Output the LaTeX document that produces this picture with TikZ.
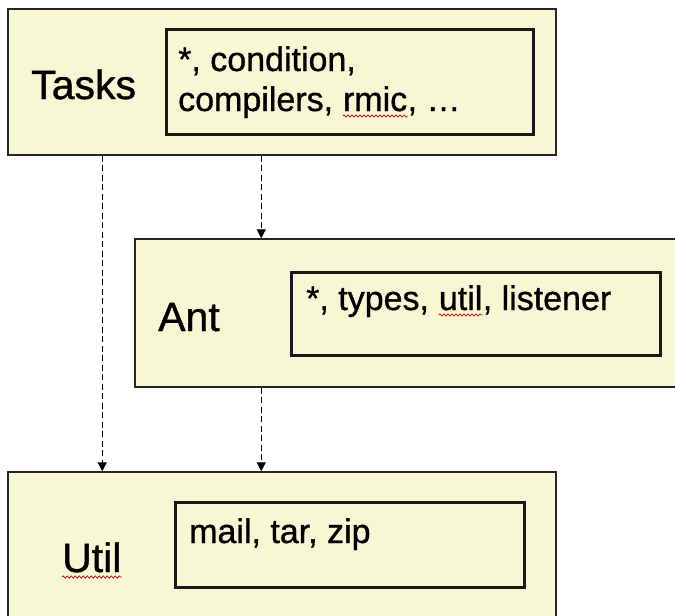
\documentclass[tikz,border=0pt]{standalone}
\usepackage{fontspec}
\setmainfont[FakeBold=0.9]{Liberation Sans}
\usetikzlibrary{arrows.meta,decorations.pathmorphing}
\definecolor{boxfill}{RGB}{247,247,212}
\tikzset{
  outerbox/.style={draw=black!85, line width=1.5pt, fill=boxfill, rectangle, inner sep=0pt},
  innerbox/.style={draw=black!90, line width=3pt, fill=boxfill, rectangle, inner sep=0pt},
  lbl/.style={inner sep=0pt, anchor=base west, font=\fontsize{41}{48}\selectfont},
  txt/.style={inner sep=0pt, anchor=base west, font=\fontsize{34}{40}\selectfont},
  dep/.style={dash pattern=on 6pt off 3.5pt, line width=1.2pt, -{Triangle[length=9pt,width=9pt]}},
  spell/.style={draw=red!85!black, line width=0.7pt, decorate,
    decoration={snake, segment length=4pt, amplitude=1.2pt}},
}
\begin{document}
\begin{tikzpicture}[x=1pt,y=-1pt]
\path[use as bounding box, clip] (0,0) rectangle (675,616);
\fill[white] (0,0) rectangle (675,616);

% package boxes
\node[outerbox, minimum width=548pt, minimum height=146pt] (tasks) at (282,82) {};
\node[outerbox, minimum width=565pt, minimum height=148pt] (ant) at (417.5,313) {};
\node[outerbox, minimum width=548pt, minimum height=168pt] (util) at (282,556) {};

% contents boxes
\node[innerbox, minimum width=367pt, minimum height=105pt] (tasksin) at (349.5,81.5) {};
\node[innerbox, minimum width=369pt, minimum height=83pt] (antin) at (475.5,313.5) {};
\node[innerbox, minimum width=349pt, minimum height=85pt] (utilin) at (349.5,544.5) {};

% dependencies
\draw[dep] ([xshift=95pt]tasks.south west) -- ([xshift=95pt]util.north west);
\draw[dep] ([xshift=254pt]tasks.south west) -- ([xshift=127pt]ant.north west);
\draw[dep] ([xshift=127pt]ant.south west) -- ([xshift=254pt]util.north west);

% Tasks
\node[lbl] (tasksl) at (31,99) {Tasks};
\node[txt] (t1) at (178,71) {*, condition,};
\node[txt] (t2) at (178,111) {compilers,};
\node[txt] (t2w) at ([xshift=9.5pt]t2.base east) {rmic};
\node[txt] (t2e) at (t2w.base east) {, …};

% Ant
\node[lbl] (antl) at (158,331) {Ant};
\node[txt] (a1) at (306,310) {*, types,};
\node[txt] (a2) at ([xshift=9.5pt]a1.base east) {util};
\node[txt] (a3) at (a2.base east) {, listener};

% Util
\node[lbl] (utill) at (62,572) {Util};
\node[txt] (u1) at (189,543) {mail, tar, zip};

% spelling marks
\draw[spell] ([yshift=-5pt]t2w.base west) -- ([yshift=-5pt]t2w.base east);
\draw[spell] ([yshift=-5pt]a2.base west) -- ([yshift=-5pt]a2.base east);
\draw[spell] ([yshift=-5pt]utill.base west) -- ([yshift=-5pt]utill.base east);
\end{tikzpicture}
\end{document}
